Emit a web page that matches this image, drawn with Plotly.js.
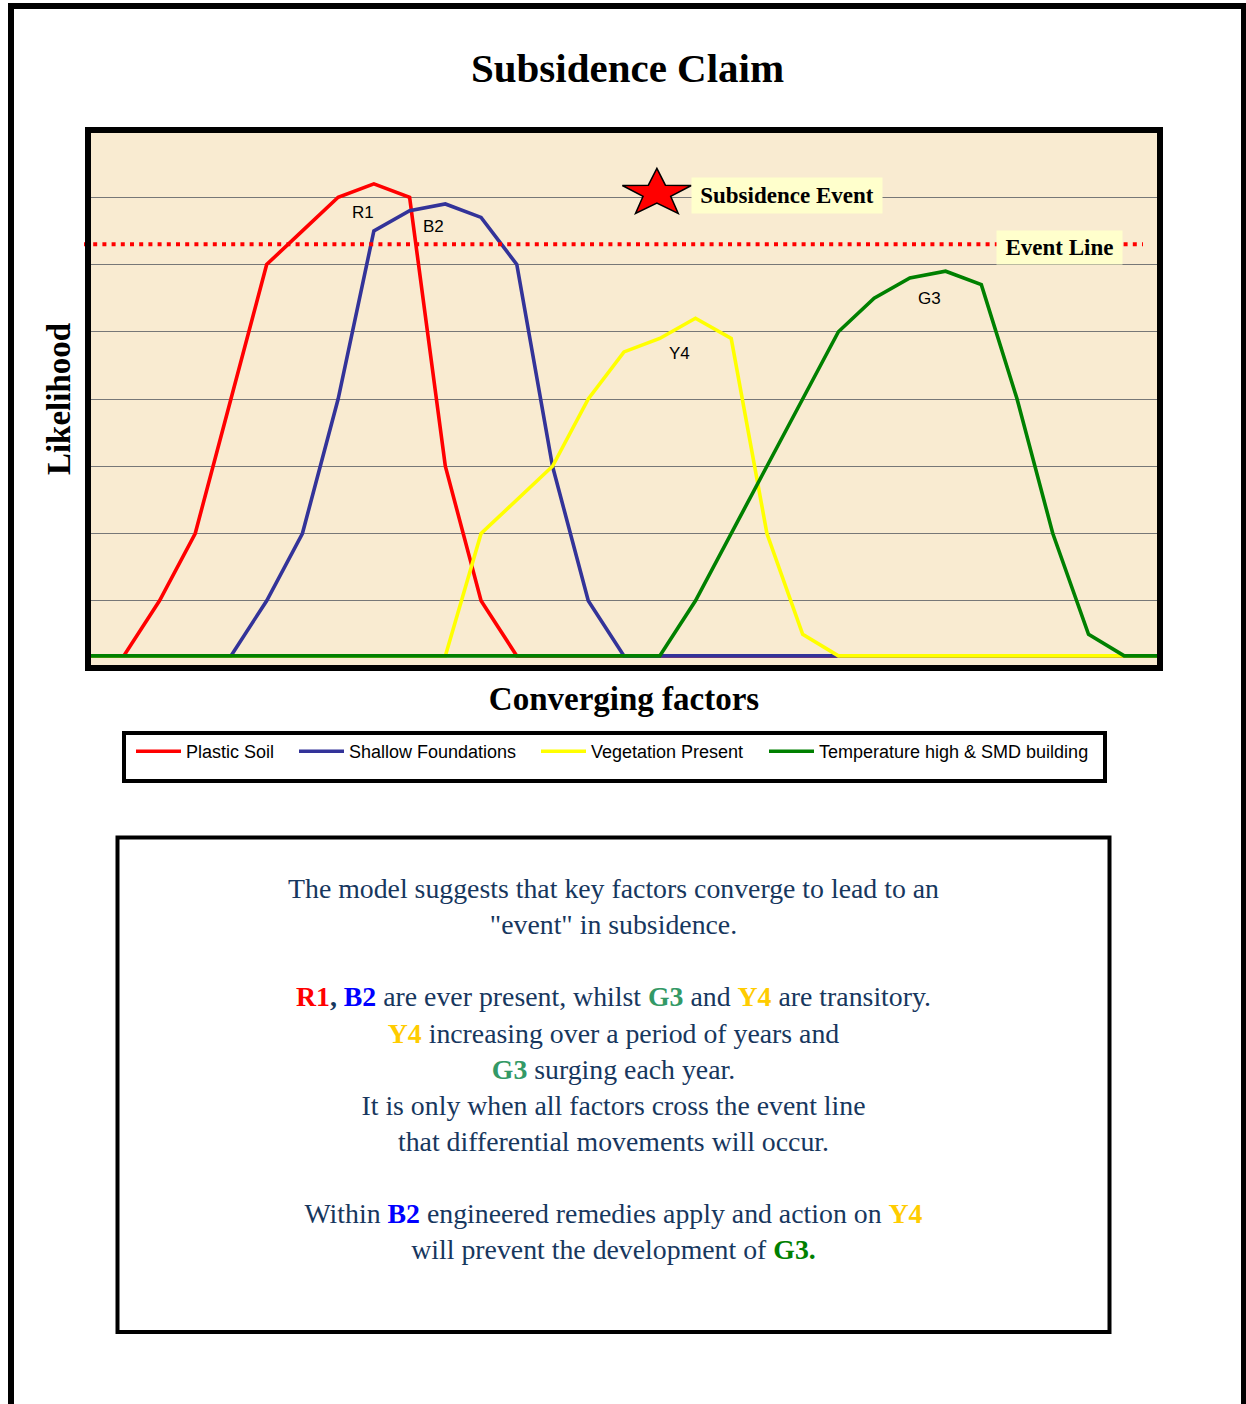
<!DOCTYPE html>
<html>
<head>
<meta charset="utf-8">
<script src="https://cdn.plot.ly/plotly-3.0.1.min.js"></script>
<style>
  html, body { margin: 0; padding: 0; background: #ffffff; }
  #chart { width: 1246px; height: 1404px; }
</style>
</head>
<body>
<div id="chart"></div>
<script>
// ---------------- data ----------------
const factorSteps = [0,1,2,3,4,5,6,7,8,9,10,11,12,13,14,15,16,17,18,19,20,21,22,23,24,25,26,27,28,29,30];
const seriesNames = ["Plastic Soil", "Shallow Foundations", "Vegetation Present", "Temperature high & SMD building"];
const plasticSoil        = [1.8,1.8,10,20,40,60,65,70,72,70,30,10,1.8,1.8,1.8,1.8,1.8,1.8,1.8,1.8,1.8,1.8,1.8,1.8,1.8,1.8,1.8,1.8,1.8,1.8,1.8];
const shallowFoundations = [1.8,1.8,1.8,1.8,1.8,10,20,40,65,68,69,67,60,30,10,1.8,1.8,1.8,1.8,1.8,1.8,1.8,1.8,1.8,1.8,1.8,1.8,1.8,1.8,1.8,1.8];
const vegetationPresent  = [1.8,1.8,1.8,1.8,1.8,1.8,1.8,1.8,1.8,1.8,1.8,20,25,30,40,47,49,52,49,20,5,1.8,1.8,1.8,1.8,1.8,1.8,1.8,1.8,1.8,1.8];
const temperatureSMD     = [1.8,1.8,1.8,1.8,1.8,1.8,1.8,1.8,1.8,1.8,1.8,1.8,1.8,1.8,1.8,1.8,1.8,10,20,30,40,50,55,58,59,57,40,20,5,1.8,1.8];
const eventLevel = 63;
const curveLabels = ["R1", "B2", "Y4", "G3"];
const curveLabelPos = [[7.70, 67.7], [9.66, 65.6], [16.54, 46.8], [23.56, 55.0]];
const starPoint = [15.92, 70.6];

// ---------------- geometry helpers ----------------
const W = 1246, H = 1404;
const PL = 88, PR = 1160, PT = 130, PB = 668;
function px(x) { return (x - PL) / (PR - PL); }
function py(y) { return (PB - y) / (PB - PT); }

function starPath(rx, ry, ratio) {
  const pts = [];
  for (let k = 0; k < 10; k++) {
    const ang = Math.PI / 2 - k * Math.PI / 5;
    const r = (k % 2 === 0) ? 1 : ratio;
    pts.push((rx * r * Math.cos(ang)).toFixed(2) + "," + (ry * r * Math.sin(ang)).toFixed(2));
  }
  return "M" + pts.join("L") + "Z";
}

const colors = ["#ff0000", "#333399", "#ffff00", "#008000"];
const seriesData = [plasticSoil, shallowFoundations, vegetationPresent, temperatureSMD];
const legendIds = ["legend", "legend2", "legend3", "legend4"];
const legendLeft = [131, 294, 536, 764];

const traces = seriesData.map((vals, i) => ({
  type: "scatter",
  mode: "lines",
  x: factorSteps,
  y: vals,
  name: seriesNames[i],
  legend: legendIds[i],
  line: { color: colors[i], width: 3.6 },
  hoverinfo: "skip"
}));

const serif = "Liberation Serif, Times New Roman, serif";
const sans = "Liberation Sans, Arial, sans-serif";
const textBlue = "#17375e";

const bodyText =
  "The model suggests that key factors converge to lead to an<br>" +
  "\"event\" in subsidence.<br>" +
  " <br>" +
  "<span style='color:#ff0000'><b>R1</b></span><b>,</b> <span style='color:#0000ff'><b>B2</b></span> are ever present, whilst <span style='color:#339966'><b>G3</b></span> and <span style='color:#ffcc00'><b>Y4</b></span> are transitory.<br>" +
  "<span style='color:#ffcc00'><b>Y4</b></span> increasing over a period of years and<br>" +
  "<span style='color:#339966'><b>G3</b></span> surging each year.<br>" +
  "It is only when all factors cross the event line<br>" +
  "that differential movements will occur.<br>" +
  " <br>" +
  "Within <span style='color:#0000ff'><b>B2</b></span> engineered remedies apply and action on <span style='color:#ffcc00'><b>Y4</b></span><br>" +
  "will prevent the development of <span style='color:#008000'><b>G3.</b></span>";

const annotations = [
  {
    xref: "paper", yref: "paper", x: px(787), y: py(195),
    xanchor: "center", yanchor: "middle", showarrow: false,
    text: "Subsidence Event", bgcolor: "#ffffcc", borderpad: 2,
    width: 186, height: 31,
    font: { family: serif, size: 23, weight: 700, color: "#000000" }
  },
  {
    xref: "paper", yref: "paper", x: px(1059), y: py(247),
    xanchor: "center", yanchor: "middle", showarrow: false,
    text: "Event Line", bgcolor: "#ffffcc", borderpad: 2,
    width: 121, height: 29,
    font: { family: serif, size: 23, weight: 700, color: "#000000" }
  },
  {
    xref: "paper", yref: "paper", x: px(613), y: py(1069),
    xanchor: "center", yanchor: "middle", showarrow: false, align: "center",
    text: bodyText,
    font: { family: serif, size: 27.8, color: textBlue }
  }
];
curveLabels.forEach((t, i) => {
  annotations.push({
    xref: "x", yref: "y", x: curveLabelPos[i][0], y: curveLabelPos[i][1],
    xanchor: "center", yanchor: "middle", showarrow: false, text: t,
    font: { family: sans, size: 17, color: "#000000" }
  });
});

const shapes = [
  // outer page border
  { type: "rect", xref: "paper", yref: "paper", x0: px(11), x1: px(1244), y0: py(6), y1: py(1430),
    line: { color: "#000000", width: 6 }, fillcolor: "rgba(0,0,0,0)", layer: "above" },
  // event line
  { type: "line", xref: "paper", yref: "y", x0: px(84), x1: px(1143), y0: eventLevel, y1: eventLevel,
    line: { color: "#ff0000", width: 4, dash: "4px,5.2px" }, layer: "above" },
  // plot frame
  { type: "rect", xref: "paper", yref: "paper", x0: 0, x1: 1, y0: 0, y1: 1,
    line: { color: "#000000", width: 6 }, fillcolor: "rgba(0,0,0,0)", layer: "above" },
  // star
  { type: "path", xref: "x", yref: "y", xsizemode: "pixel", ysizemode: "pixel",
    xanchor: starPoint[0], yanchor: starPoint[1], path: starPath(36.3, 24.9, 0.40),
    fillcolor: "#ff0000", line: { color: "#000000", width: 1.5 }, layer: "above" },
  // legend box
  { type: "rect", xref: "paper", yref: "paper", x0: px(124), x1: px(1105), y0: py(733), y1: py(781),
    line: { color: "#000000", width: 4 }, fillcolor: "rgba(0,0,0,0)" },
  // text box
  { type: "rect", xref: "paper", yref: "paper", x0: px(117.5), x1: px(1109.5), y0: py(837.5), y1: py(1332),
    line: { color: "#000000", width: 4 }, fillcolor: "rgba(0,0,0,0)" }
];

const layout = {
  width: W, height: H,
  margin: { l: PL, r: W - PR, t: PT, b: H - PB, pad: 0 },
  paper_bgcolor: "#ffffff",
  plot_bgcolor: "#f9ebd1",
  title: {
    text: "Subsidence Claim",
    font: { family: serif, size: 41, weight: 700, color: "#000000" },
    xref: "paper", x: px(627.5), xanchor: "center",
    yref: "container", y: 1 - 68 / H, yanchor: "middle"
  },
  xaxis: {
    range: [0, 30], showgrid: false, zeroline: false, showline: false,
    showticklabels: false, ticks: "", fixedrange: true,
    title: { text: "Converging factors", standoff: 18,
      font: { family: serif, size: 33, weight: 700, color: "#000000" } }
  },
  yaxis: {
    range: [0, 80], dtick: 10, tick0: 0, showgrid: true, gridcolor: "#777777", gridwidth: 1,
    zeroline: false, showline: false, showticklabels: false, ticks: "", fixedrange: true,
    title: { text: "Likelihood", standoff: 6,
      font: { family: serif, size: 33, weight: 700, color: "#000000" } }
  },
  showlegend: true,
  shapes: shapes,
  annotations: annotations
};

legendIds.forEach((id, i) => {
  layout[id] = {
    orientation: "h", xref: "paper", yref: "paper",
    x: px(legendLeft[i]), y: py(733), xanchor: "left", yanchor: "top",
    bgcolor: "rgba(0,0,0,0)", borderwidth: 0, itemwidth: 45,
    font: { family: sans, size: 18, color: "#000000" }
  };
});

Plotly.newPlot("chart", traces, layout, { displayModeBar: false, staticPlot: true });
</script>
</body>
</html>
